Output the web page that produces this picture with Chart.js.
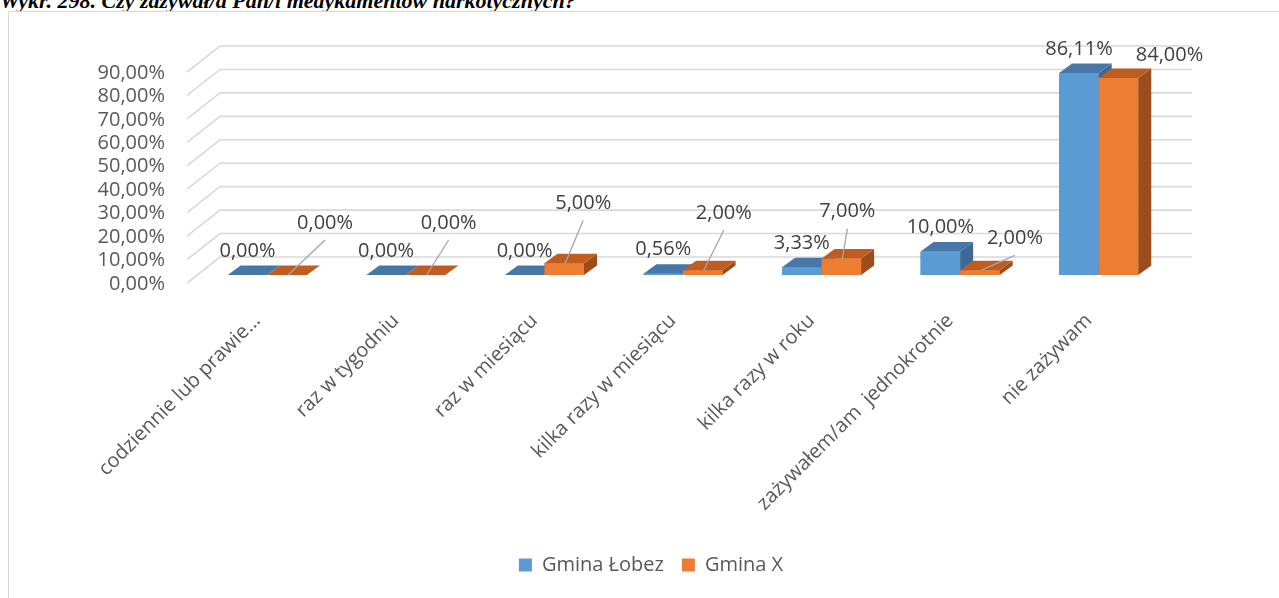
<!DOCTYPE html>
<html>
<head>
<meta charset="utf-8">
<script src="https://cdn.jsdelivr.net/npm/chart.js@4.4.1/dist/chart.umd.min.js"></script>
<style>
  html, body { margin: 0; padding: 0; background: #fff; overflow: hidden; }
  #title {
    position: absolute; left: 0; top: -12px; margin: 0; line-height: 22px;
    font: italic bold 22px "Liberation Serif", serif; color: #000; white-space: nowrap;
  }
  #frame {
    position: absolute; left: 8px; top: 11px; width: 1300px; height: 620px;
    border: 1px solid #d9d9d9; background: #fff;
  }
  #chart { position: absolute; left: 0; top: 0; }
</style>
</head>
<body>
<div id="title">Wykr. 298. Czy zażywał/a Pan/i medykamentów narkotycznych?</div>
<div id="frame"></div>
<canvas id="chart" width="1279" height="598"></canvas>
<script>
// Czy zażywał/a Pan/i ... – 3D-looking column chart, two series

const categories = [
    'codziennie lub prawie...',
    'raz w tygodniu',
    'raz w miesiącu',
    'kilka razy w miesiącu',
    'kilka razy w roku',
    'zażywałem/am  jednokrotnie',
    'nie zażywam'
];
const lobezValues = [0, 0, 0, 0.56, 3.33, 10, 86.11];
const gminaXValues = [0, 0, 5, 2, 7, 2, 84];
const yTicks = [0, 10, 20, 30, 40, 50, 60, 70, 80, 90];

// label nudges for the orange series (dx, dy from bar top, leader line?)
const orangeLabelNudge = [
    [38, -52, true], [23, -52, true], [19, -60, true], [21, -57, true],
    [6, -47, true], [35, -32, true], [51, -23, false]
];

const FONT = '"Open Sans", "Noto Sans", sans-serif';
const BAR_DX = 13, BAR_DY = -9.5;

const pct = v => v.toFixed(2).replace('.', ',') + '%';

// ── back wall + side wall grid ────────────────────────────────────────────────
const grid3d = {
    id: 'grid3d',
    beforeDatasetsDraw(chart) {
        const { ctx, chartArea: a, scales: { y } } = chart;
        ctx.save();
        ctx.strokeStyle = '#d9d9d9';
        ctx.lineWidth = 1.6;
        yTicks.forEach(v => {
            const py = y.getPixelForValue(v);
            ctx.beginPath();
            ctx.moveTo(a.left - 11, py + 8);
            ctx.lineTo(a.left + 22, py - 18);
            ctx.lineTo(a.right + 24, py - 18);
            ctx.stroke();
        });
        ctx.restore();
    }
};

// ── columns: front (library element) + top + side, painted left to right ─────
const faces3d = {
    id: 'faces3d',
    afterDatasetsDraw(chart) {
        const ctx = chart.ctx;
        ctx.save();
        categories.forEach((_, i) => {
            chart.data.datasets.forEach((ds, di) => {
                const bar = chart.getDatasetMeta(di).data[i];
                const { x, y, width, base } = bar.getProps(['x', 'y', 'width', 'base'], true);
                const l = x - width / 2, r = x + width / 2;
                bar.draw(ctx);
                ctx.fillStyle = ds.sideColor;
                ctx.beginPath();
                ctx.moveTo(r, y);
                ctx.lineTo(r + BAR_DX, y + BAR_DY);
                ctx.lineTo(r + BAR_DX, base + BAR_DY);
                ctx.lineTo(r, base);
                ctx.closePath();
                ctx.fill();
                ctx.fillStyle = ds.topColor;
                ctx.beginPath();
                ctx.moveTo(l, y);
                ctx.lineTo(r, y);
                ctx.lineTo(r + BAR_DX, y + BAR_DY);
                ctx.lineTo(l + BAR_DX, y + BAR_DY);
                ctx.closePath();
                ctx.fill();
            });
        });
        ctx.restore();
    }
};

// ── value labels ──────────────────────────────────────────────────────────────
const valueLabels = {
    id: 'valueLabels',
    afterDatasetsDraw(chart) {
        const ctx = chart.ctx;
        ctx.save();
        ctx.font = '20px ' + FONT;
        ctx.textAlign = 'center';
        ctx.textBaseline = 'middle';
        chart.data.datasets.forEach((ds, di) => {
            chart.getDatasetMeta(di).data.forEach((bar, i) => {
                const { x, y } = bar.getProps(['x', 'y'], true);
                let lx = x, ly = y - 24;
                if (di === 1) {
                    const [nx, ny, leader] = orangeLabelNudge[i];
                    lx = x + nx; ly = y + ny;
                    if (leader) {
                        ctx.strokeStyle = '#a6a6a6';
                        ctx.lineWidth = 1.3;
                        ctx.beginPath();
                        ctx.moveTo(x + 1, y);
                        ctx.lineTo(lx, ly + 17);
                        ctx.stroke();
                    }
                }
                ctx.fillStyle = '#404040';
                ctx.fillText(pct(ds.data[i]), lx, ly);
            });
        });
        ctx.restore();
    }
};

// legend sits centred under the plot, not under the whole canvas
const legendShift = {
    id: 'legendShift',
    afterLayout(chart) {
        chart.legend.left += 23;
        chart.legend.right += 23;
    }
};

new Chart(document.getElementById('chart'), {
    type: 'bar',
    data: {
        labels: categories,
        datasets: [
            { label: 'Gmina Łobez', data: lobezValues,
              backgroundColor: '#5b9bd5', topColor: '#4677a7', sideColor: '#3c6995' },
            { label: 'Gmina X', data: gminaXValues,
              backgroundColor: '#ed7d31', topColor: '#bf5d21', sideColor: '#9d4d1b' }
        ]
    },
    options: {
        responsive: false,
        animation: false,
        layout: { padding: { left: 88, right: 111, top: 64, bottom: 13 } },
        datasets: { bar: { categoryPercentage: 0.571, barPercentage: 1.0 } },
        plugins: {
            legend: {
                position: 'bottom',
                labels: {
                    color: '#595959', font: { size: 20, family: FONT },
                    boxWidth: 13, boxHeight: 13, padding: 18
                }
            },
            tooltip: { enabled: false }
        },
        scales: {
            x: {
                grid: { display: false, drawTicks: false },
                border: { display: false },
                ticks: {
                    color: '#595959', font: { size: 20, family: FONT },
                    minRotation: 45, maxRotation: 45, autoSkip: false,
                    padding: 34, labelOffset: -10
                },
                afterFit: s => { s.height = 262; }
            },
            y: {
                min: 0, max: 90,
                grid: { display: false, drawTicks: false },
                border: { display: false },
                ticks: {
                    stepSize: 10, autoSkip: false, color: '#595959',
                    font: { size: 20, family: FONT },
                    padding: 33, labelOffset: 9, callback: v => pct(v)
                },
                afterFit: s => { s.width = 110; }
            }
        }
    },
    plugins: [grid3d, faces3d, valueLabels, legendShift]
});
</script>
</body>
</html>
